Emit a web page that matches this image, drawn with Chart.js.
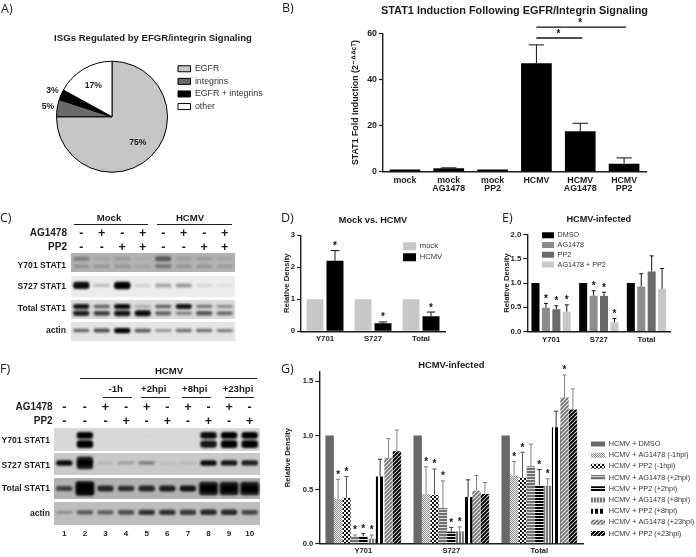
<!DOCTYPE html>
<html>
<head>
<meta charset="utf-8">
<script src="https://cdn.jsdelivr.net/npm/chart.js@4"></script>
<style>
  html, body { margin: 0; padding: 0; background: #fff; }
  #page { position: relative; width: 696px; height: 557px; overflow: hidden; filter: blur(0.35px);
          font-family: "Liberation Sans", Arial, sans-serif; color: #1c1c1c; }
  #page canvas { position: absolute; }
  #page canvas.blot { filter: blur(1px); }
  .txt { position: absolute; white-space: nowrap; line-height: 1; }
  .rule { position: absolute; height: 1.4px; background: #1c1c1c; }
  .strip { position: absolute; }
</style>
</head>
<body>
<div id="page"></div>
<script>
// A) pie
const pieLabels = ['EGFR', 'integrins', 'EGFR + integrins', 'other'];
const pieValues = [75, 5, 3, 17];

// B) STAT1 induction
const bCats = ['mock', ['mock', 'AG1478'], ['mock', 'PP2'], 'HCMV', ['HCMV', 'AG1478'], ['HCMV', 'PP2']];
const bValues = [1, 1.5, 1, 47, 17.5, 3.5];
const bTops = [null, 1.7, null, 55, 21, 6];
const bTicks = [0, 20, 40, 60];
const bSig = [{ from: 3, to: 4, y: 58 }, { from: 3, to: 5, y: 62.7 }];

// D) mock vs HCMV
const groupCats = ['Y701', 'S727', 'Total'];
const dMock = [1, 1, 1];
const dHcmv = [2.2, 0.25, 0.47];
const dHcmvTop = [2.52, 0.29, 0.6];
const dHcmvStars = [1, 1, 1];
const dTicks = [0, 1, 2, 3];

// E) HCMV infected, inhibitors
const eDmso = [1, 1, 1];
const eAg = [0.49, 0.74, 0.93];
const ePp2 = [0.46, 0.73, 1.24];
const eBoth = [0.41, 0.19, 0.88];
const eAgTop = [0.58, 0.84, 1.19];
const ePp2Top = [0.53, 0.81, 1.56];
const eBothTop = [0.55, 0.27, 1.3];
const eStars = [1, 1, 0];
const eTicks = [0, 0.5, 1, 1.5, 2];

// G) time course
const gDmso = [1, 1, 1];
const gAgM1 = [0.41, 0.46, 0.63];
const gPpM1 = [0.425, 0.45, 0.61];
const gAgP2 = [0.065, 0.33, 0.715];
const gPpP2 = [0.07, 0.11, 0.54];
const gAgP8 = [0.045, 0.115, 0.535];
const gPpP8 = [0.62, 0.43, 1.077];
const gAgP23 = [0.795, 0.49, 1.35];
const gPpP23 = [0.855, 0.46, 1.24];
const gAgM1Top = [0.595, 0.71, 0.76];
const gPpM1Top = [0.62, 0.69, 0.845];
const gAgP2Top = [0.08, 0.58, 0.92];
const gPpP2Top = [0.095, 0.15, 0.685];
const gAgP8Top = [0.08, 0.155, 0.6];
const gPpP8Top = [0.78, 0.59, 1.225];
const gAgP23Top = [0.97, 0.63, 1.56];
const gPpP23Top = [1.05, 0.565, 1.43];
const gTicks = [0, 0.5, 1, 1.5];

// Western blots: band darkness per lane (0 = no band)
const cAg = ['-', '+', '-', '+', '-', '+', '-', '+'];
const cPp = ['-', '-', '+', '+', '-', '-', '+', '+'];
const cY701Up = [0.3, 0.08, 0.15, 0.04, 0.5, 0.15, 0.15, 0.1];
const cY701Low = [0.2, 0.18, 0.18, 0.1, 0.35, 0.18, 0.18, 0.15];
const cS727 = [0.95, 0.2, 1, 0.12, 0.3, 0.35, 0.1, 0.06];
const cTotalUp = [0.9, 0.55, 0.95, 0.25, 0.55, 0.9, 0.45, 0.35];
const cTotalLow = [0.85, 0.7, 0.9, 0.95, 0.55, 0.4, 0.6, 0.5];
const cActin = [0.55, 0.65, 1, 0.6, 0.35, 0.5, 0.5, 0.45];

const fAg = ['-', '-', '+', '-', '+', '-', '+', '-', '+', '-'];
const fPp = ['-', '-', '-', '+', '-', '+', '-', '+', '-', '+'];
const fLanes = ['1', '2', '3', '4', '5', '6', '7', '8', '9', '10'];
const fY701Up = [0, 1, 0, 0, 0.02, 0, 0, 0.95, 1, 1];
const fY701Low = [0, 1, 0, 0, 0, 0, 0, 0.9, 1, 1];
const fS727 = [0.95, 1, 0.12, 0.25, 0.4, 0.08, 0.1, 0.95, 0.9, 0.85];
const fS727Blob = [0, 0.85, 0, 0, 0, 0, 0, 0, 0, 0];
const fTotal = [0.65, 1, 0.8, 0.75, 0.8, 0.85, 0.9, 1, 1, 1];
const fTotalBlob = [0, 0.95, 0, 0, 0, 0, 0, 0.85, 0.85, 0.85];
const fActin = [0.25, 0.55, 0.5, 0.6, 0.75, 0.75, 0.7, 0.8, 0.8, 0.65];

Chart.defaults.font.family = '"Liberation Sans", Arial, sans-serif';
Chart.defaults.color = '#1c1c1c';
Chart.defaults.animation = false;

const page = document.getElementById('page');

function put(text, x, y, size, bold, align) {
  const s = document.createElement('span');
  s.className = 'txt';
  s.textContent = text;
  s.style.fontSize = size + 'px';
  s.style.fontWeight = bold ? 'bold' : 'normal';
  s.style.left = x + 'px';
  s.style.top = y + 'px';
  const tx = align === 'right' ? '-100%' : align === 'center' ? '-50%' : '0';
  s.style.transform = 'translate(' + tx + ',-50%)';
  page.appendChild(s);
  return s;
}

function rule(x1, x2, y) {
  const d = document.createElement('div');
  d.className = 'rule';
  d.style.left = x1 + 'px';
  d.style.width = (x2 - x1) + 'px';
  d.style.top = y + 'px';
  page.appendChild(d);
}

function addCanvas(x, y, w, h) {
  const c = document.createElement('canvas');
  c.width = w;
  c.height = h;
  c.style.left = x + 'px';
  c.style.top = y + 'px';
  c.style.width = w + 'px';
  c.style.height = h + 'px';
  page.appendChild(c);
  return c;
}

// moves the legend to a fixed spot on the canvas, and lets the title use the whole canvas width
const legendMover = {
  id: 'legendMover',
  afterLayout(chart, args, opts) {
    if (opts.wideTitle && chart.titleBlock) {
      chart.titleBlock.left = 0;
      chart.titleBlock.right = chart.width;
    }
    const l = chart.legend;
    if (!l || !opts.x) return;
    const lab = chart.options.plugins.legend.labels;
    const rowH = Math.max(lab.boxHeight, lab.font.size);
    l.left = opts.x - lab.padding;
    l.right = l.left + 400;
    l.top = opts.y - rowH / 2 - lab.padding;
    l.bottom = l.top + 400;
  }
};

// error bars and stars, read from the dataset's tops/stars through the y scale
const errorBars = {
  id: 'errorBars',
  afterDatasetsDraw(chart) {
    const ctx = chart.ctx, y = chart.scales.y;
    chart.data.datasets.forEach((ds, di) => {
      chart.getDatasetMeta(di).data.forEach((bar, i) => {
        const top = ds.tops ? ds.tops[i] : null;
        const yVal = y.getPixelForValue(ds.data[i]);
        const yTop = top == null ? yVal : y.getPixelForValue(top);
        if (top != null) {
          const cap = bar.width / 4;
          ctx.save();
          ctx.strokeStyle = ds.errColor || '#111';
          ctx.lineWidth = 1;
          ctx.beginPath();
          ctx.moveTo(bar.x, yVal);
          ctx.lineTo(bar.x, yTop);
          ctx.moveTo(bar.x - cap, yTop);
          ctx.lineTo(bar.x + cap, yTop);
          ctx.stroke();
          ctx.restore();
        }
        if (ds.stars && ds.stars[i]) {
          ctx.save();
          ctx.fillStyle = '#111';
          ctx.font = 'bold 10px "Liberation Sans"';
          ctx.textAlign = 'center';
          ctx.fillText('*', bar.x, yTop - 1.5);
          ctx.restore();
        }
      });
    });
  }
};

// significance brackets of panel B
const sigLines = {
  id: 'sigLines',
  afterDatasetsDraw(chart, args, opts) {
    if (!opts.lines) return;
    const ctx = chart.ctx, x = chart.scales.x, y = chart.scales.y;
    ctx.save();
    ctx.strokeStyle = '#111';
    ctx.fillStyle = '#111';
    ctx.lineWidth = 1.4;
    ctx.font = 'bold 10px "Liberation Sans"';
    ctx.textAlign = 'center';
    opts.lines.forEach(s => {
      const x1 = x.getPixelForValue(s.from), x2 = x.getPixelForValue(s.to), py = y.getPixelForValue(s.y);
      ctx.beginPath();
      ctx.moveTo(x1, py);
      ctx.lineTo(x2 + 2, py);
      ctx.stroke();
      ctx.fillText('*', (x1 + x2) / 2, py - 1);
    });
    ctx.restore();
  }
};

function barChart(cfg) {
  const titleH = cfg.title.size * 1.2;
  const rectY = cfg.title.cy - titleH / 2;
  const r = cfg.rect, p = cfg.plot;
  const canvas = addCanvas(r.x, rectY, r.w, r.h);
  const ticks = cfg.ticks;
  return new Chart(canvas, {
    type: 'bar',
    data: {
      labels: cfg.labels,
      datasets: cfg.datasets
    },
    options: {
      responsive: false,
      layout: {
        autoPadding: false,
        padding: {
          left: p.x - r.x - cfg.yW,
          right: r.x + r.w - p.x - p.w,
          top: 0,
          bottom: rectY + r.h - p.y - p.h - cfg.xH
        }
      },
      datasets: { bar: { categoryPercentage: cfg.cat, barPercentage: cfg.bar } },
      plugins: {
        title: {
          display: true,
          text: cfg.title.text,
          fullSize: !!cfg.title.wide,
          color: '#1c1c1c',
          font: { size: cfg.title.size, weight: 'bold' },
          padding: { top: 0, bottom: p.y - rectY - titleH }
        },
        legend: cfg.legend ? {
          display: true,
          position: 'chartArea',
          align: 'start',
          labels: {
            boxWidth: cfg.legend.boxW,
            boxHeight: cfg.legend.boxH,
            padding: cfg.legend.pad,
            color: '#333',
            font: { size: cfg.legend.size }
          }
        } : { display: false },
        tooltip: { enabled: false },
        legendMover: {
          wideTitle: !!cfg.title.wide,
          x: cfg.legend ? cfg.legend.x - r.x : 0,
          y: cfg.legend ? cfg.legend.y - rectY : 0
        },
        sigLines: { lines: cfg.sig }
      },
      scales: {
        x: {
          grid: { display: false, drawTicks: false },
          border: { color: '#1c1c1c', width: 1.4 },
          ticks: { padding: cfg.xPad, maxRotation: 0, autoSkip: false, color: '#1c1c1c',
                   font: { size: cfg.xSize, weight: 'bold', lineHeight: 1 } },
          afterFit: s => { s.height = cfg.xH; }
        },
        y: {
          min: 0,
          max: cfg.max,
          grid: { display: true, drawOnChartArea: false, drawTicks: true, tickLength: 4, tickWidth: 1.2, tickColor: '#1c1c1c' },
          border: { color: '#1c1c1c', width: 1.4 },
          ticks: { padding: 2, color: '#1c1c1c', font: { size: cfg.ySize, weight: 'bold' },
                   callback: v => v.toFixed(cfg.dec) },
          title: { display: true, text: cfg.yTitle, color: '#1c1c1c', padding: 0,
                   font: { size: cfg.yTitleSize, weight: 'bold' } },
          afterBuildTicks: s => { s.ticks = ticks.map(v => ({ value: v })); },
          afterFit: s => { s.width = cfg.yW; }
        }
      }
    },
    plugins: [legendMover, errorBars, sigLines]
  });
}

// fill patterns for panel G
function pattern(size, bg, fg, draw) {
  const c = document.createElement('canvas');
  c.width = size;
  c.height = size;
  const x = c.getContext('2d');
  x.fillStyle = bg;
  x.fillRect(0, 0, size, size);
  x.fillStyle = fg;
  x.strokeStyle = fg;
  draw(x);
  return x.createPattern(c, 'repeat');
}
const checker = (bg, fg, n) => pattern(n * 2, bg, fg, x => { x.fillRect(0, 0, n, n); x.fillRect(n, n, n, n); });
const hStripe = (bg, fg, a, b) => pattern(a + b, bg, fg, x => x.fillRect(0, 0, a + b, a));
const vStripe = (bg, fg, a, b) => pattern(a + b, bg, fg, x => x.fillRect(0, 0, a, a + b));
const diag = (bg, fg, n, w) => pattern(n, bg, fg, x => {
  x.lineWidth = w;
  x.beginPath();
  x.moveTo(-1, n + 1); x.lineTo(n + 1, -1);
  x.moveTo(-1, 1); x.lineTo(1, -1);
  x.moveTo(n - 1, n + 1); x.lineTo(n + 1, n - 1);
  x.stroke();
});

// ---- A
(function () {
  const titleSize = 9.6, titleH = titleSize * 1.2;
  const rectX = 40, rectW = 226, rectY = 39 - titleH / 2, rectH = 155;
  const plot = { x: 56, y: 61, w: 112, h: 112 };
  const pieLabelPlugin = {
    id: 'pieText',
    afterDatasetsDraw(chart) {
      const ctx = chart.ctx;
      ctx.save();
      ctx.fillStyle = '#1c1c1c';
      ctx.font = 'bold 8.6px "Liberation Sans"';
      ctx.textAlign = 'center';
      ctx.textBaseline = 'middle';
      chart.getDatasetMeta(0).data.forEach((arc, i) => {
        const mid = (arc.startAngle + arc.endAngle) / 2;
        const r = pieValues[i] > 10 ? arc.outerRadius * 0.66 : arc.outerRadius * 1.17;
        ctx.fillText(pieValues[i] + '%', arc.x + Math.cos(mid) * r, arc.y + Math.sin(mid) * r);
      });
      ctx.restore();
    }
  };
  new Chart(addCanvas(rectX, rectY, rectW, rectH), {
    type: 'pie',
    data: {
      labels: pieLabels,
      datasets: [{
        data: pieValues,
        backgroundColor: ['#c6c6c6', '#6a6a6a', '#000000', '#ffffff'],
        borderColor: '#000',
        borderWidth: 1
      }]
    },
    options: {
      responsive: false,
      layout: {
        autoPadding: false,
        padding: { left: plot.x - rectX, right: rectX + rectW - plot.x - plot.w, top: 0, bottom: rectY + rectH - plot.y - plot.h }
      },
      plugins: {
        title: {
          display: true,
          text: 'ISGs Regulated by EFGR/integrin Signaling',
          color: '#1c1c1c',
          font: { size: titleSize, weight: 'bold' },
          padding: { top: 0, bottom: plot.y - rectY - titleH }
        },
        legend: {
          display: true,
          position: 'chartArea',
          align: 'start',
          labels: { boxWidth: 12.5, boxHeight: 6, padding: 3.8, color: '#333', font: { size: 8.8 } }
        },
        tooltip: { enabled: false },
        legendMover: { wideTitle: true, x: 178 - rectX, y: 69 - rectY }
      }
    },
    plugins: [legendMover, pieLabelPlugin]
  });
})();

// ---- B
barChart({
  rect: { x: 339, w: 351, h: 190 },
  plot: { x: 383, y: 33.3, w: 263, h: 138.4 },
  title: { text: 'STAT1 Induction Following EGFR/Integrin Signaling', size: 10.9, cy: 10.5, wide: true },
  labels: bCats,
  datasets: [{ data: bValues, backgroundColor: '#000', tops: bTops, errColor: '#111' }],
  cat: 0.7, bar: 1, max: 60, ticks: bTicks, dec: 0,
  yW: 33, xH: 26, xPad: 4, xSize: 8.8, ySize: 8.8,
  yTitle: 'STAT1 Fold Induction (2⁻ᐞᐞᶜᵀ)', yTitleSize: 8.8,
  sig: bSig
});

// ---- D
barChart({
  rect: { x: 270, w: 190, h: 130 },
  plot: { x: 301, y: 235.7, w: 144, h: 96 },
  title: { text: 'Mock vs. HCMV', size: 9.2, cy: 221 },
  labels: groupCats,
  datasets: [
    { label: 'mock', data: dMock, backgroundColor: '#c8c8c8' },
    { label: 'HCMV', data: dHcmv, backgroundColor: '#000', tops: dHcmvTop, stars: dHcmvStars }
  ],
  cat: 0.833, bar: 0.85, max: 3, ticks: dTicks, dec: 0,
  yW: 19, xH: 14, xPad: 4, xSize: 7.8, ySize: 7.8,
  yTitle: 'Relative Density', yTitleSize: 7.7,
  legend: { x: 403, y: 246.7, boxW: 13, boxH: 8, pad: 3, size: 7.6 }
});

// ---- E
barChart({
  rect: { x: 490, w: 200, h: 130 },
  plot: { x: 527.3, y: 235, w: 143, h: 97 },
  title: { text: 'HCMV-infected', size: 9.2, cy: 220 },
  labels: groupCats,
  datasets: [
    { label: 'DMSO', data: eDmso, backgroundColor: '#000' },
    { label: 'AG1478', data: eAg, backgroundColor: '#8c8c8c', tops: eAgTop, stars: eStars },
    { label: 'PP2', data: ePp2, backgroundColor: '#6a6a6a', tops: ePp2Top, stars: eStars },
    { label: 'AG1478 + PP2', data: eBoth, backgroundColor: '#c8c8c8', tops: eBothTop, stars: eStars }
  ],
  cat: 0.875, bar: 0.77, max: 2, ticks: eTicks, dec: 1,
  yW: 25.5, xH: 14, xPad: 4, xSize: 7.8, ySize: 7.8,
  yTitle: 'Relative Density', yTitleSize: 7.7,
  legend: { x: 542, y: 235.7, boxW: 12, boxH: 6, pad: 2.6, size: 7.2 }
});

// ---- G
const gErrGray = '#808080';
barChart({
  rect: { x: 270, w: 426, h: 195 },
  plot: { x: 319.3, y: 372, w: 264, h: 172 },
  title: { text: 'HCMV-infected', size: 9.4, cy: 366 },
  labels: groupCats,
  datasets: [
    { label: 'HCMV + DMSO', data: gDmso, backgroundColor: '#696969' },
    { label: 'HCMV + AG1478 (-1hpi)', data: gAgM1, backgroundColor: checker('#f2f2f2', '#8a8a8a', 1), tops: gAgM1Top, errColor: gErrGray, stars: [1, 1, 1] },
    { label: 'HCMV + PP2 (-1hpi)', data: gPpM1, backgroundColor: checker('#ffffff', '#111111', 2), tops: gPpM1Top, errColor: '#555', stars: [1, 1, 1] },
    { label: 'HCMV + AG1478 (+2hpi)', data: gAgP2, backgroundColor: hStripe('#d8d8d8', '#707070', 2, 1), tops: gAgP2Top, errColor: gErrGray, stars: [1, 1, 0] },
    { label: 'HCMV + PP2 (+2hpi)', data: gPpP2, backgroundColor: hStripe('#e8e8e8', '#000000', 2, 1), tops: gPpP2Top, errColor: '#333', stars: [1, 1, 1] },
    { label: 'HCMV + AG1478 (+8hpi)', data: gAgP8, backgroundColor: vStripe('#e4e4e4', '#7a7a7a', 2, 1), tops: gAgP8Top, errColor: gErrGray, stars: [1, 1, 1] },
    { label: 'HCMV + PP2 (+8hpi)', data: gPpP8, backgroundColor: vStripe('#ffffff', '#000000', 3, 2), tops: gPpP8Top, errColor: '#333' },
    { label: 'HCMV + AG1478 (+23hpi)', data: gAgP23, backgroundColor: diag('#eeeeee', '#707070', 4, 1.6), tops: gAgP23Top, errColor: gErrGray, stars: [0, 0, 1] },
    { label: 'HCMV + PP2 (+23hpi)', data: gPpP23, backgroundColor: diag('#ffffff', '#000000', 4, 2), tops: gPpP23Top, errColor: gErrGray }
  ],
  cat: 0.86, bar: 1, max: 1.59, ticks: gTicks, dec: 1,
  yW: 36, xH: 14, xPad: 3.5, xSize: 7.6, ySize: 7.6,
  yTitle: 'Relative Density', yTitleSize: 7.7,
  legend: { x: 591, y: 444.3, boxW: 14, boxH: 5, pad: 3.9, size: 7.3 }
});

// ---- western blots, each strip is a floating-bar chart with one dataset per band row
function blotStrip(x, y, w, h, bg, rows) {
  const back = document.createElement('div');
  back.className = 'strip';
  back.style.cssText = 'left:' + x + 'px;top:' + y + 'px;width:' + w + 'px;height:' + h + 'px;background:' + bg;
  page.appendChild(back);
  const c = addCanvas(x, y, w, h);
  c.className = 'blot';
  new Chart(c, {
    type: 'bar',
    data: {
      labels: rows[0].v.map((_, i) => i + 1),
      datasets: rows.map(r => ({
        data: r.v.map(v => {
          const half = (0.06 + 0.14 * v) * (r.k || 1);
          return [r.c - half, r.c + half];
        }),
        backgroundColor: r.v.map(v => 'rgba(0,0,0,' + v + ')'),
        borderRadius: 3,
        borderSkipped: false,
        grouped: false,
        categoryPercentage: 1,
        barPercentage: r.w || 0.8
      }))
    },
    options: {
      responsive: false,
      layout: { autoPadding: false, padding: 0 },
      plugins: { legend: { display: false }, title: { display: false }, tooltip: { enabled: false } },
      scales: {
        x: { display: false },
        y: { display: false, min: 0, max: 1 }
      }
    }
  });
}

// panel C
const cX = 71, cW = 164;
blotStrip(cX, 253, cW, 19, '#b2b2b2', [{ c: 0.7, v: cY701Up }, { c: 0.3, v: cY701Low }]);
blotStrip(cX, 276, cW, 21, '#ececec', [{ c: 0.55, k: 0.9, v: cS727 }]);
blotStrip(cX, 300, cW, 19, '#dadada', [{ c: 0.66, k: 0.7, v: cTotalUp }, { c: 0.3, k: 0.8, v: cTotalLow }]);
blotStrip(cX, 322, cW, 19, '#e4e4e4', [{ c: 0.55, k: 0.7, v: cActin }]);

put('Mock', 109, 218, 9.6, true, 'center');
put('HCMV', 190, 218, 9.6, true, 'center');
rule(74, 148, 224);
rule(157, 232, 224);
put('AG1478', 67, 233, 10, true, 'right');
put('PP2', 67, 247, 10, true, 'right');
cAg.forEach((s, i) => {
  const lx = cX + cW / cAg.length * (i + 0.5);
  put(s, lx, 233, 12.5, true, 'center');
  put(cPp[i], lx, 247, 12.5, true, 'center');
});
put('Y701 STAT1', 66, 265, 8.6, true, 'right');
put('S727 STAT1', 66, 286, 8.6, true, 'right');
put('Total STAT1', 66, 308, 8.6, true, 'right');
put('actin', 66, 330, 8.6, true, 'right');

// panel F
const fX = 54, fW = 206;
blotStrip(fX, 428, fW, 23, '#d8d8d8', [{ c: 0.68, k: 0.75, v: fY701Up }, { c: 0.3, k: 0.85, v: fY701Low }]);
blotStrip(fX, 453, fW, 22, '#c9c9c9', [{ c: 0.55, k: 0.65, v: fS727 }, { c: 0.55, k: 1.6, v: fS727Blob }]);
blotStrip(fX, 478, fW, 21, '#b2b2b2', [{ c: 0.5, k: 0.8, v: fTotal }, { c: 0.5, k: 1.8, v: fTotalBlob, w: 0.92 }]);
blotStrip(fX, 502, fW, 23, '#bdbdbd', [{ c: 0.55, k: 0.7, v: fActin }]);

put('HCMV', 169, 371, 9.6, true, 'center');
rule(80, 257, 377.5);
[['-1h', 115.7, 103, 132], ['+2hpi', 153.7, 141, 170], ['+8hpi', 194.7, 182, 210.7], ['+23hpi', 238, 225, 254]].forEach(h => {
  put(h[0], h[1], 389, 9.6, true, 'center');
  rule(h[2], h[3], 396.5);
});
put('AG1478', 52.7, 407, 10, true, 'right');
put('PP2', 52.7, 421, 10, true, 'right');
fAg.forEach((s, i) => {
  const lx = fX + fW / fAg.length * (i + 0.5);
  put(s, lx, 407, 12.5, true, 'center');
  put(fPp[i], lx, 421, 12.5, true, 'center');
  put(fLanes[i], lx, 534, 8, true, 'center');
});
put('Y701 STAT1', 50, 439.7, 8.6, true, 'right');
put('S727 STAT1', 50, 465, 8.6, true, 'right');
put('Total STAT1', 50, 488, 8.6, true, 'right');
put('actin', 50, 513, 8.6, true, 'right');

// panel letters
[['A)', 1, 9], ['B)', 282, 8], ['C)', 0, 218], ['D)', 281, 218], ['E)', 502, 218], ['F)', 0, 369], ['G)', 281, 369]].forEach(l => {
  put(l[0], l[1], l[2], 12.5, false, 'left').style.fontFamily = '"Open Sans"';
});
</script>
</body>
</html>
